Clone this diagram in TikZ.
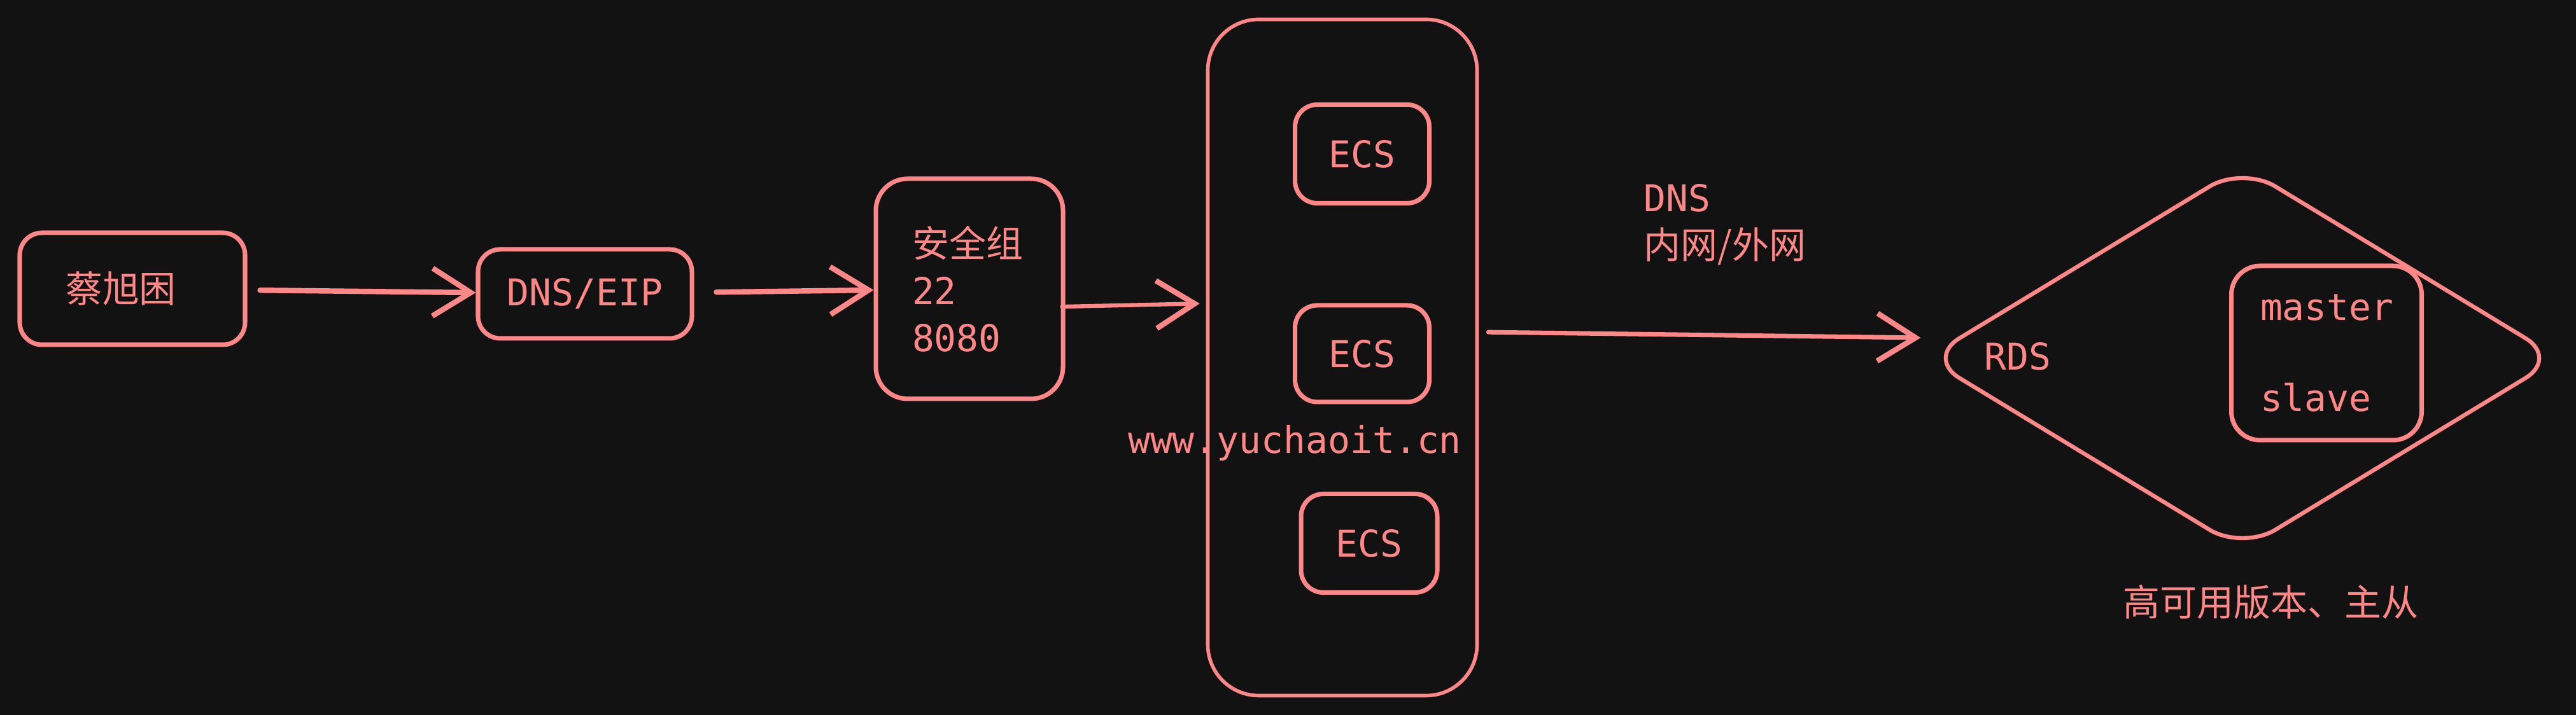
\documentclass[tikz,border=0pt]{standalone}
\usepackage{fontspec}
\setmainfont{DejaVu Sans Mono}
\newfontfamily\cjk{Noto Sans CJK SC}
\usetikzlibrary{shapes.geometric,arrows.meta}
\definecolor{bgdark}{HTML}{121212}
\definecolor{salmon}{HTML}{FF8787}
\tikzset{
  box/.style={draw=salmon,line width=2pt,rounded corners=0.35cm,text=salmon,inner sep=0pt},
  arr/.style={draw=salmon,line width=2.4pt,line cap=round,-{Straight Barb[length=0.6cm,width=0.75cm,line width=2.4pt]}},
  lbl/.style={text=salmon,inner sep=0pt}
}

\begin{document}
\begin{tikzpicture}[font=\fontsize{16.5}{21}\selectfont]
                \fill[bgdark] (0,0) rectangle (40.47,11.24);
                \useasboundingbox (0,0) rectangle (40.47,11.24);

                \node[box,minimum width=3.54cm,minimum height=1.76cm] (user) at (2.08,6.70) {\cjk 蔡旭困\kern3.6mm};
                \node[box,minimum width=3.36cm,minimum height=1.40cm] (dns) at (9.19,6.62) {DNS/EIP};
                \node[box,rounded corners=0.5cm,minimum width=2.94cm,minimum height=3.46cm,text width=1.8cm,align=left] (sg) at (15.23,6.70) {{\cjk 安全组}\\22\\8080};

                \node[box,line width=1.6pt,rounded corners=0.8cm,minimum width=4.23cm,minimum height=10.63cm] (cluster) at (21.09,5.62) {};
                \node[box,minimum width=2.11cm,minimum height=1.55cm] (ecsa) at (21.40,8.82) {ECS};
                \node[box,minimum width=2.11cm,minimum height=1.52cm] (ecsb) at (21.40,5.68) {ECS};
                \node[box,minimum width=2.14cm,minimum height=1.55cm] (ecsc) at (21.51,2.70) {ECS};
                \node[lbl] (site) at (20.34,4.27) {www.yuchaoit.cn};

                \node[lbl,align=left] (net) at (27.10,7.71) {DNS\\{\cjk 内网/外网}};

                \node[box,line width=1.8pt,diamond,rounded corners=0.6cm,aspect=1.655,minimum width=9.95cm,minimum height=6.05cm] (rds) at (35.23,5.61) {};
                \node[lbl] (rdsname) at (31.70,5.64) {RDS};
                \node[box,rounded corners=0.45cm,minimum width=2.99cm,minimum height=2.74cm,text width=2.08cm,align=left] (ms) at (36.55,5.69) {master\\[0.7cm]slave};
                \node[lbl] (ha) at (35.67,1.77) {\cjk 高可用版本、主从};

                \draw[arr,shorten <=0.2cm] (user) -- (dns);
                \draw[arr,shorten <=0.35cm] (dns) -- (sg);
                \draw[arr,line width=1.8pt,shorten <=-0.05cm,shorten >=0.1cm] ([yshift=-2.8mm]sg.east) -- ([yshift=-2.3mm]sg.east -| cluster.west);
                \draw[arr,line width=2pt,shorten <=0.15cm] ([yshift=4mm]cluster.east) -- ([xshift=-0.5mm,yshift=3.2mm]rds.west);
            \end{tikzpicture}
\end{document}
